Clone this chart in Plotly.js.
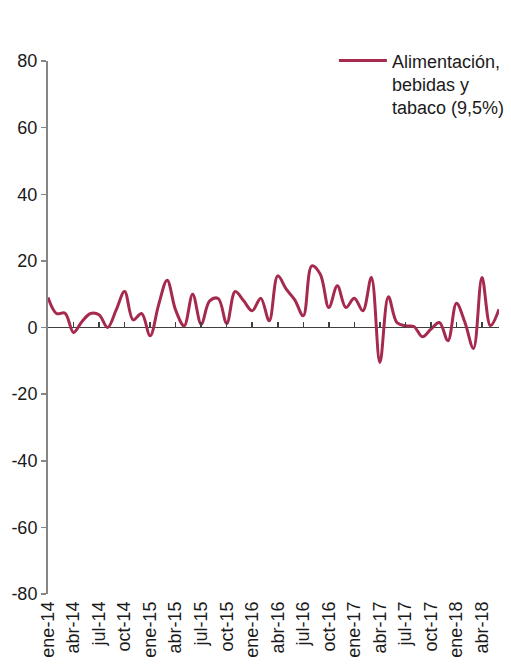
<!DOCTYPE html>
<html>
<head>
<meta charset="utf-8">
<script src="https://cdn.plot.ly/plotly-3.0.1.min.js"></script>
<style>html,body{margin:0;padding:0;background:#fff;}#chart{width:511px;height:664px;}</style>
</head>
<body>
<div id="chart"></div>
<script>
const months = [
  'ene-14','feb-14','mar-14','abr-14','may-14','jun-14','jul-14','ago-14','sep-14','oct-14','nov-14','dic-14',
  'ene-15','feb-15','mar-15','abr-15','may-15','jun-15','jul-15','ago-15','sep-15','oct-15','nov-15','dic-15',
  'ene-16','feb-16','mar-16','abr-16','may-16','jun-16','jul-16','ago-16','sep-16','oct-16','nov-16','dic-16',
  'ene-17','feb-17','mar-17','abr-17','may-17','jun-17','jul-17','ago-17','sep-17','oct-17','nov-17','dic-17',
  'ene-18','feb-18','mar-18','abr-18','may-18','jun-18'
];
const alimentacion = [
  9, 4.2, 4.3, -1.5, 1.8, 4.2, 3.8, 0, 5.2, 10.8, 2.3, 4.2,
  -2.5, 6.8, 14.2, 5.2, 0.5, 10, 1, 8, 8.7, 1.2, 10.8, 8,
  5, 8.8, 2, 15.5, 11.5, 8.3, 3.5, 18.5, 16, 6, 12.5, 6,
  8.8, 5, 15, -10.5, 9.2, 1.5, 0.5, 0.3, -2.8, -0.5, 1.5, -4,
  7.3, 1.5, -6.3, 15, 0.5, 5.5
];
const tickLabels = ['ene-14','abr-14','jul-14','oct-14','ene-15','abr-15','jul-15','oct-15','ene-16','abr-16','jul-16','oct-16','ene-17','abr-17','jul-17','oct-17','ene-18','abr-18'];
const yTicks = [-80, -60, -40, -20, 0, 20, 40, 60, 80];
const yTickLabels = ['-80', '-60', '-40', '-20', '0', '20', '40', '60', '80'];
const seriesName = 'Alimentación,<br>bebidas y<br>tabaco (9,5%)';

const FONT = 'Arial, "Liberation Sans", sans-serif';
const traces = [
  {
    x: months, y: alimentacion, type: 'scatter', mode: 'lines',
    name: seriesName,
    line: {color: '#A52A4E', width: 3, shape: 'spline', smoothing: 1},
    xaxis: 'x', yaxis: 'y', hoverinfo: 'skip'
  },
  {
    x: months, y: alimentacion, type: 'scatter', mode: 'lines',
    line: {width: 0}, opacity: 0, showlegend: false, hoverinfo: 'skip',
    xaxis: 'x2', yaxis: 'y'
  }
];
const layout = {
  width: 511, height: 664,
  margin: {l: 48, r: 12, t: 61, b: 70, autoexpand: false},
  paper_bgcolor: '#fff', plot_bgcolor: 'rgba(0,0,0,0)',
  font: {family: FONT, size: 18, color: '#1a1a1a'},
  showlegend: true,
  legend: {
    x: 0.634, y: 1.035, xanchor: 'left', yanchor: 'top',
    itemwidth: 48, valign: 'top', bgcolor: 'rgba(0,0,0,0)',
    font: {family: FONT, size: 18, color: '#1a1a1a'}
  },
  xaxis: {
    type: 'category', categoryorder: 'array', categoryarray: months,
    range: [0, months.length - 1],
    tickmode: 'array', tickvals: tickLabels, ticktext: tickLabels,
    tickangle: -90, ticks: '', ticklabelstandoff: 3,
    showline: false, showgrid: false, zeroline: false,
    tickfont: {family: FONT, size: 18, color: '#1a1a1a'}
  },
  xaxis2: {
    type: 'category', categoryorder: 'array', categoryarray: months,
    range: [0, months.length - 1],
    overlaying: 'x', anchor: 'free', position: 0.5,
    tickmode: 'array', tickvals: tickLabels,
    ticks: 'inside', ticklen: 6, tickcolor: '#404040', tickwidth: 1.5,
    showticklabels: false, showline: false, showgrid: false, zeroline: false,
    layer: 'above traces'
  },
  yaxis: {
    range: [-80, 80], tickmode: 'array', tickvals: yTicks, ticktext: yTickLabels,
    ticks: 'outside', ticklen: 5, tickcolor: '#868686', tickwidth: 1.5,
    showline: true, linecolor: '#868686', linewidth: 2,
    showgrid: false, zeroline: true, zerolinecolor: '#404040', zerolinewidth: 1.5,
    tickfont: {family: FONT, size: 18, color: '#1a1a1a'}
  }
};
Plotly.newPlot('chart', traces, layout, {displayModeBar: false, staticPlot: true});
</script>
</body>
</html>
